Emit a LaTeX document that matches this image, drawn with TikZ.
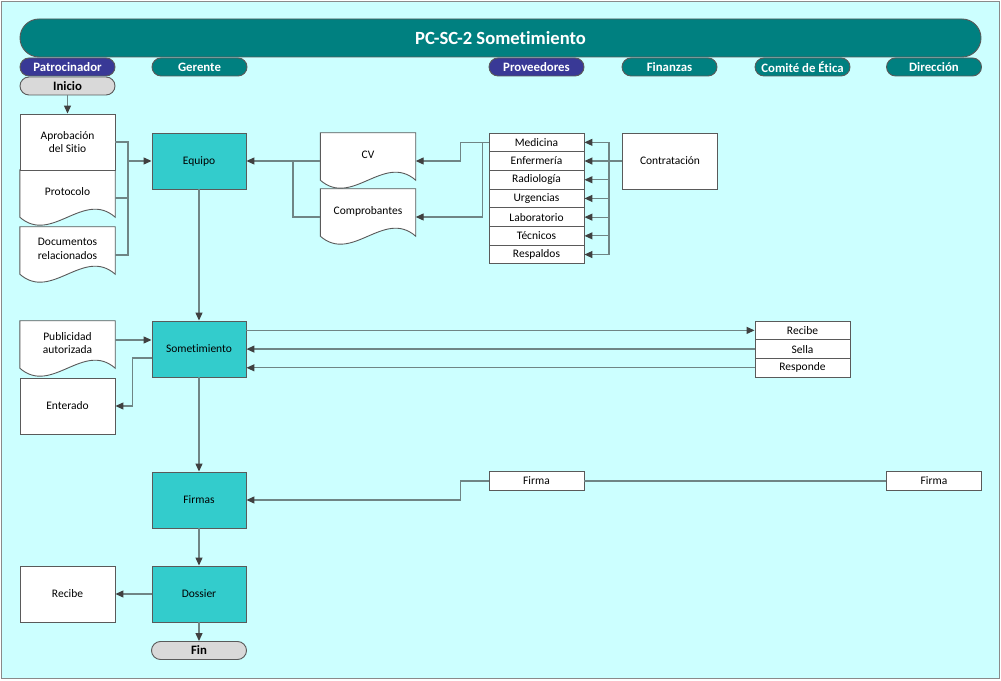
\documentclass[tikz,border=0pt]{standalone}
\usepackage{fontspec}
\setmainfont{Carlito}[Ligatures=NoCommon]
\usetikzlibrary{arrows.meta,calc}

\definecolor{bgcyan}{HTML}{CCFFFF}
\definecolor{laneteal}{HTML}{008080}
\definecolor{laneviolet}{HTML}{393996}
\definecolor{actfill}{HTML}{33CCCC}
\definecolor{termfill}{HTML}{D9D9D9}
\definecolor{edge}{HTML}{5A5A5A}
\definecolor{wirec}{HTML}{6F8585}
\definecolor{tipc}{HTML}{404040}
\definecolor{framec}{HTML}{8A8A8A}

\pgfdeclarelayer{back}
\pgfsetlayers{back,main}

% document symbol: straight top and sides, wavy bottom edge
\newcommand\docwave[1]{%
  \begin{pgfonlayer}{back}
    \draw[shape base, fill=white] (#1.north west) -- (#1.north east) -- ($(#1.south east)+(0,9)$)
      .. controls ($(#1.south east)+(-31.7,36.7)$) and ($(#1.south west)+(31.7,-18.7)$) .. ($(#1.south west)+(0,9)$) -- cycle;
  \end{pgfonlayer}}

\begin{document}
\begin{tikzpicture}[x=1pt,y=1pt,
  every node/.style={font=\fontsize{11.5}{13.5}\selectfont, text=black},
  shape base/.style={draw=edge, line width=0.9pt},
  activity/.style={shape base, fill=actfill, minimum width=94pt, minimum height=56pt, inner sep=2pt},
  plainbox/.style={shape base, fill=white, minimum width=95pt, minimum height=56pt, inner sep=2pt, align=center},
  listbox/.style={shape base, fill=white, minimum width=95pt, minimum height=18.7pt, inner sep=0pt},
  docnode/.style={minimum width=95pt, minimum height=56pt, inner sep=0pt},
  doctext/.style={yshift=6pt, align=center},
  lane/.style={shape base, rounded corners=9pt, minimum width=95pt, minimum height=18pt, inner sep=0pt,
    text=white, font=\fontsize{12.8}{14}\selectfont\bfseries},
  terminal/.style={lane, fill=termfill, text=black},
  wire/.style={draw=wirec, line width=1.2pt},
  arr/.style={wire, -{Triangle[length=8pt,width=7pt,color=tipc]}},
]
\useasboundingbox (0,0) rectangle (1001,680);
\begin{pgfonlayer}{back}
  \fill[white] (0,0) rectangle (1001,680);
  \draw[fill=bgcyan, draw=framec, line width=1.2pt] (1.5,1.5) rectangle (999.5,678.5);
\end{pgfonlayer}

% title bar and lane headers
\node[shape base, fill=laneteal, rounded corners=19pt, minimum width=961pt, minimum height=38pt,
  text=white, font=\fontsize{18.6}{20}\selectfont\bfseries] (title) at (500.5,642) {PC-SC-2 Sometimiento};
\node[lane, fill=laneviolet] (hpat) at (67.5,613) {Patrocinador};
\node[lane, fill=laneteal] (hger) at (199.5,613) {Gerente};
\node[lane, fill=laneviolet] (hprov) at (536.5,613) {Proveedores};
\node[lane, fill=laneteal] (hfin) at (669.5,613) {Finanzas};
\node[lane, fill=laneteal] (hcom) at (802.5,613) {Comité de Ética};
\node[lane, fill=laneteal] (hdir) at (934,613) {Dirección};

\node[terminal] (inicio) at (67.5,594) {Inicio};

% sponsor documents
\node[plainbox] (aprob) at (67.5,538) {Aprobación\\del Sitio};
\node[docnode, label={[doctext]center:Protocolo}] (proto) at (67.5,482) {};
\docwave{proto}
\node[docnode, label={[doctext]center:{Documentos\\relacionados}}] (docrel) at (67.5,425) {};
\docwave{docrel}

% manager activities
\node[activity] (equipo) at (199,519) {Equipo};
\node[activity] (som) at (199,331) {Sometimiento};
\node[activity] (firmas) at (199,180) {Firmas};
\node[activity] (dossier) at (199,86) {Dossier};
\node[terminal] (fin) at (199,29.5) {Fin};

% CV and receipts
\node[docnode, label={[doctext]center:CV}] (cv) at (368,519) {};
\docwave{cv}
\node[docnode, label={[doctext]center:Comprobantes}] (comp) at (368,463) {};
\docwave{comp}

% provider list
\foreach \t [count=\i] in {Medicina,Enfermería,Radiología,Urgencias,Laboratorio,Técnicos,Respaldos}
  \node[listbox] (prov\i) at (536.5,{680-142.35-18.7*(\i-1)}) {\t};

\node[plainbox] (contr) at (670,519) {Contratación};

% publicity and notification
\node[docnode, label={[doctext]center:{Publicidad\\autorizada}}] (pub) at (67.5,331) {};
\docwave{pub}
\node[plainbox] (ent) at (67.5,274) {Enterado};

% ethics committee
\node[listbox] (rec) at (802.5,349.6) {Recibe};
\node[listbox] (sel) at (802.5,330.9) {Sella};
\node[listbox] (resp) at (802.5,312.2) {Responde};

% signatures
\node[listbox] (firma1) at (536.5,199) {Firma};
\node[listbox] (firma2) at (934,199) {Firma};

\node[plainbox] (recL) at (67.5,86) {Recibe};

% connectors
\draw[arr] (inicio.south) -- (aprob.north);
\coordinate (jA) at (128,519);
\draw[wire] (aprob.east) -| (jA);
\draw[wire] (docrel.east) -| (jA);
\draw[wire] (proto.east) -- (proto.east -| jA);
\draw[arr] (jA) -- (equipo.west);

\draw[arr] (equipo.south) -- (som.north);
\draw[arr] (cv.west) -- (equipo.east);
\coordinate (jB) at (293,519);
\draw[wire] (comp.west) -| (jB);

\draw[arr] (prov1.west) -- ++(-28,0) |- (cv.east);
\draw[arr] (prov1.west) -- ++(-6,0) |- (comp.east);

\coordinate (jC) at (609,519);
\draw[wire] (contr.west) -- (jC);
\draw[wire] (jC |- prov1.east) -- (jC |- prov7.east);
\foreach \i in {1,...,7}
  \draw[arr] (jC |- prov\i.east) -- (prov\i.east);

\coordinate (p1) at ($(pub.east)+(0,9)$);
\draw[arr] (p1) -- (p1 -| som.west);
\coordinate (s1) at ($(som.west)+(0,-9)$);
\draw[arr] (s1) -- ++(-19,0) |- (ent.east);

\draw[arr] (rec.west -| som.east) -- (rec.west);
\draw[arr] (sel.west) -- (sel.west -| som.east);
\draw[arr] (resp.west) -- (resp.west -| som.east);

\draw[arr] (som.south) -- (firmas.north);
\draw[wire] (firma1.east) -- (firma2.west);
\draw[arr] (firma1.west) -- ++(-28,0) |- (firmas.east);
\draw[arr] (firmas.south) -- (dossier.north);
\draw[arr] (dossier.west) -- (recL.east);
\draw[arr] (dossier.south) -- (fin.north);
\end{tikzpicture}
\end{document}
